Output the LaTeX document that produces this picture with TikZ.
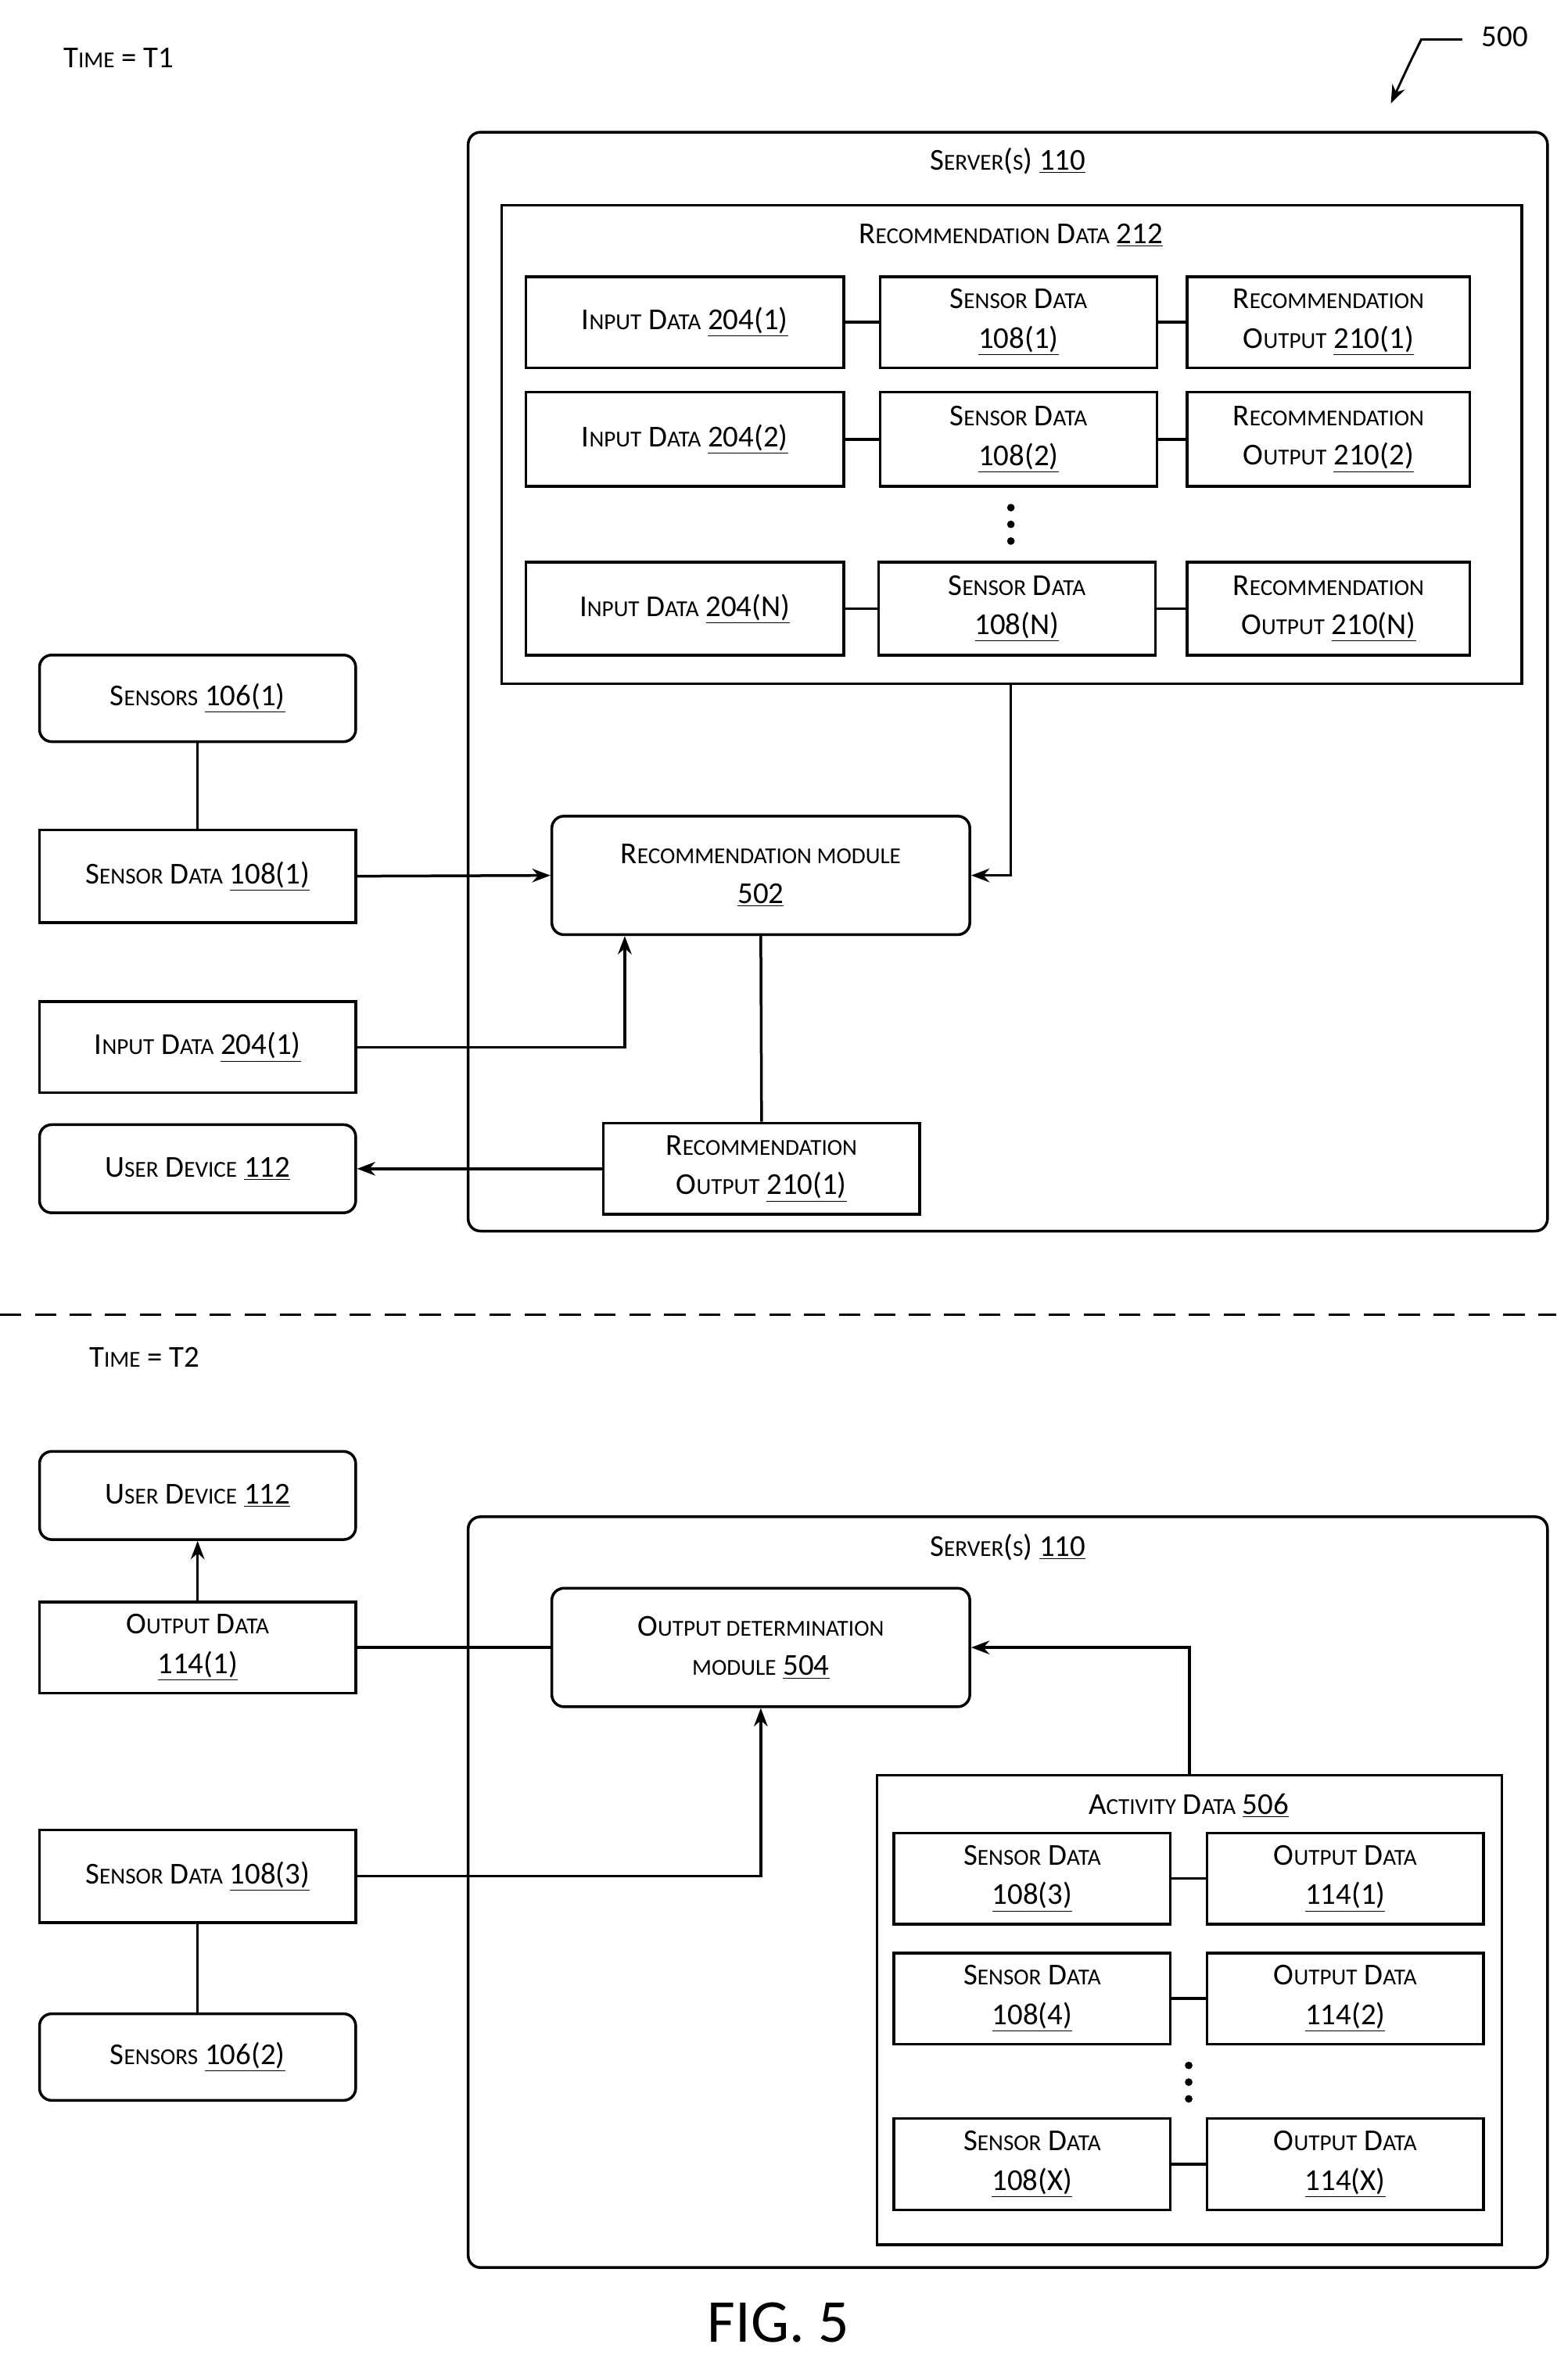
\documentclass[tikz,border=0pt]{standalone}
\usepackage{fontspec}
\setmainfont{Carlito}
\usetikzlibrary{arrows.meta}
\newcommand\smc[1]{{\fontsize{15}{18}\selectfont #1}}
\newcommand\ul[1]{\underline{#1}}
\begin{document}
\begin{tikzpicture}[x=1pt,y=-1pt,line width=1.8pt,
 every node/.style={font=\fontsize{20}{26}\selectfont,align=center},
 bx/.style={draw,rectangle,inner sep=0},
 rb/.style={draw,rectangle,rounded corners=8pt,inner sep=0},
 ar/.style={-{Stealth[length=12pt,width=9pt]}}]
\useasboundingbox (0,0) rectangle (1024,1566);
\newcommand\B[6]{\node[#1,minimum width=#4-#2,minimum height=#5-#3] (#6) at ({(#2+#4)/2},{(#3+#5)/2}) {};}
% T1
\node at (78,38) {T\smc{IME} = T1};
\node (n500) at (990,24) {500};
\coordinate (a500) at (915,68);
\draw[ar,line width=1.5pt] (962,26) -- (935,26) .. controls (928,40) .. (a500);
\B{rb}{308}{87}{1018}{810}{srv1}
\node at (663,106) {S\smc{ERVER}(\smc{S}) \ul{110}};
\B{bx}{330}{135}{1001}{450}{rd}
\node at (665,155) {R\smc{ECOMMENDATION} D\smc{ATA} \ul{212}};
\B{bx}{346}{182}{555}{242}{i1}\node at (i1) {I\smc{NPUT} D\smc{ATA} \ul{204(1)}};
\B{bx}{579}{182}{761}{242}{s1}\node at (s1) {S\smc{ENSOR} D\smc{ATA}\\\ul{108(1)}};
\B{bx}{781}{182}{967}{242}{r1}\node at (r1) {R\smc{ECOMMENDATION}\\O\smc{UTPUT} \ul{210(1)}};
\B{bx}{346}{258}{555}{320}{i2}\node at (i2) {I\smc{NPUT} D\smc{ATA} \ul{204(2)}};
\B{bx}{579}{258}{761}{320}{s2}\node at (s2) {S\smc{ENSOR} D\smc{ATA}\\\ul{108(2)}};
\B{bx}{781}{258}{967}{320}{r2}\node at (r2) {R\smc{ECOMMENDATION}\\O\smc{UTPUT} \ul{210(2)}};
\B{bx}{346}{370}{555}{431}{i3}\node at (i3) {I\smc{NPUT} D\smc{ATA} \ul{204(N)}};
\B{bx}{578}{370}{760}{431}{s3}\node at (s3) {S\smc{ENSOR} D\smc{ATA}\\\ul{108(N)}};
\B{bx}{781}{370}{967}{431}{r3}\node at (r3) {R\smc{ECOMMENDATION}\\O\smc{UTPUT} \ul{210(N)}};
\foreach \y in {334,345,356} \fill (665,\y) circle (2.5);
\foreach \a/\b/\c in {i1/s1/r1,i2/s2/r2,i3/s3/r3}{\draw (\a.east)--(\b.west); \draw (\b.east)--(\c.west);}
\B{rb}{26}{431}{234}{488}{sen1}\node at (sen1) {S\smc{ENSORS} \ul{106(1)}};
\B{bx}{26}{546}{234}{607}{sd1}\node at (sd1) {S\smc{ENSOR} D\smc{ATA} \ul{108(1)}};
\B{rb}{363}{537}{638}{615}{rm}\node at (rm) {R\smc{ECOMMENDATION MODULE}\\\ul{502}};
\B{bx}{26}{659}{234}{719}{id1}\node at (id1) {I\smc{NPUT} D\smc{ATA} \ul{204(1)}};
\B{rb}{26}{740}{234}{798}{ud1}\node at (ud1) {U\smc{SER} D\smc{EVICE} \ul{112}};
\B{bx}{397}{739}{605}{799}{ro}\node at (ro) {R\smc{ECOMMENDATION}\\O\smc{UTPUT} \ul{210(1)}};
\draw (sen1)--(sd1);
\draw[ar] (sd1.east)--(rm.west);
\draw[ar] (rd.south -| 665,0) |- (rm.east);
\draw[ar] (id1.east) -| (rm.south -| 411,0);
\draw (rm.south)--(ro.north);
\draw[ar] (ro.west)--(ud1.east);
\draw[dashed,dash pattern=on 14pt off 9pt] (0,865)--(1024,865);
% T2
\node at (95,893) {T\smc{IME} = T2};
\B{rb}{26}{955}{234}{1013}{ud2}\node at (ud2) {U\smc{SER} D\smc{EVICE} \ul{112}};
\B{bx}{26}{1054}{234}{1114}{od}\node at (od) {O\smc{UTPUT} D\smc{ATA}\\\ul{114(1)}};
\B{rb}{308}{998}{1018}{1492}{srv2}
\node at (663,1018) {S\smc{ERVER}(\smc{S}) \ul{110}};
\B{rb}{363}{1045}{638}{1123}{om}\node at (om) {O\smc{UTPUT DETERMINATION}\\\smc{MODULE} \ul{504}};
\B{bx}{577}{1168}{988}{1477}{ad}
\node at (782,1188) {A\smc{CTIVITY} D\smc{ATA} \ul{506}};
\B{bx}{588}{1206}{770}{1266}{as1}\node at (as1) {S\smc{ENSOR} D\smc{ATA}\\\ul{108(3)}};
\B{bx}{794}{1206}{976}{1266}{ao1}\node at (ao1) {O\smc{UTPUT} D\smc{ATA}\\\ul{114(1)}};
\B{bx}{588}{1285}{770}{1345}{as2}\node at (as2) {S\smc{ENSOR} D\smc{ATA}\\\ul{108(4)}};
\B{bx}{794}{1285}{976}{1345}{ao2}\node at (ao2) {O\smc{UTPUT} D\smc{ATA}\\\ul{114(2)}};
\B{bx}{588}{1394}{770}{1454}{as3}\node at (as3) {S\smc{ENSOR} D\smc{ATA}\\\ul{108(X)}};
\B{bx}{794}{1394}{976}{1454}{ao3}\node at (ao3) {O\smc{UTPUT} D\smc{ATA}\\\ul{114(X)}};
\foreach \y in {1359,1370,1381} \fill (782,\y) circle (2.5);
\foreach \a/\b in {as1/ao1,as2/ao2,as3/ao3}{\draw (\a.east)--(\b.west);}
\B{bx}{26}{1204}{234}{1265}{sd3}\node at (sd3) {S\smc{ENSOR} D\smc{ATA} \ul{108(3)}};
\B{rb}{26}{1325}{234}{1382}{sen2}\node at (sen2) {S\smc{ENSORS} \ul{106(2)}};
\draw[ar] (od.north)--(ud2.south);
\draw (od.east)--(om.west);
\draw[ar] (ad.north) |- (om.east);
\draw[ar] (sd3.east) -| (om.south);
\draw (sd3)--(sen2);
\node[font=\fontsize{40}{48}\selectfont] (fig) at (512,1528) {FIG. 5};
\end{tikzpicture}
\end{document}
